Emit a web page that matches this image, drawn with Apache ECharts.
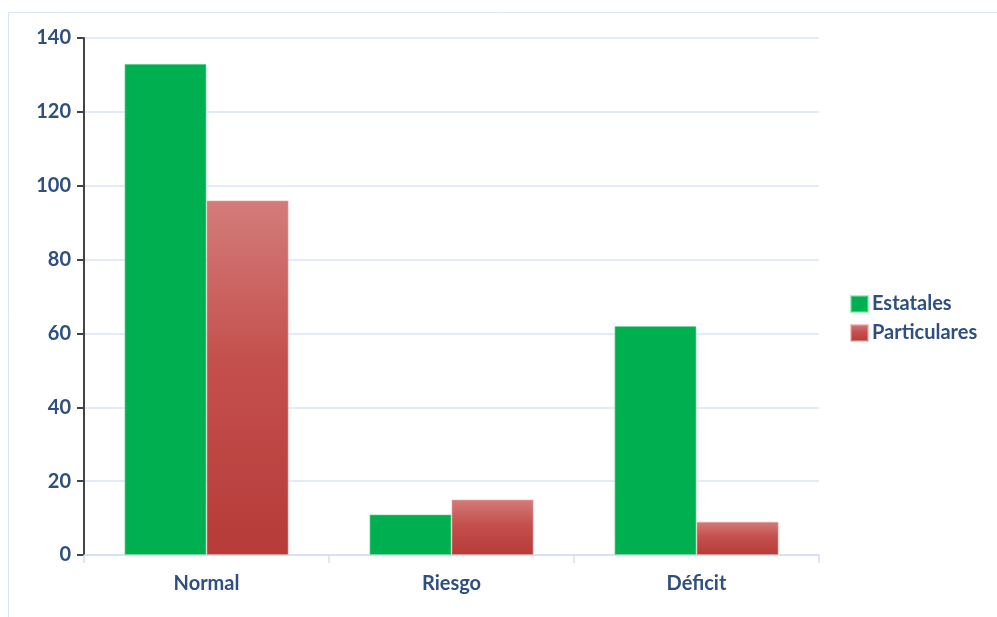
<!DOCTYPE html>
<html><head><meta charset="utf-8">
<script src="https://cdn.jsdelivr.net/npm/echarts@6/dist/echarts.min.js"></script>
<style>html,body{margin:0;padding:0;background:#fff}#c{width:997px;height:617px}</style>
</head><body><div id="c"></div>
<script>
const categories = ['Normal', 'Riesgo', 'Déficit'];
const estatales = [133, 11, 62];
const particulares = [96, 15, 9];
const yTicks = [0, 20, 40, 60, 80, 100, 120, 140];

const labelColor = '#2E4F7F';
const font = 'Lato, "Open Sans", sans-serif';
const chart = echarts.init(document.getElementById('c'), null, {renderer: 'canvas'});
chart.setOption({
  animation: false,
  backgroundColor: '#fff',
  graphic: [{type: 'rect', shape: {x: 8.5, y: 12.5, width: 1000, height: 620}, style: {fill: 'none', stroke: '#DCE6F2', lineWidth: 1}, silent: true}],
  grid: {left: 84, right: 178, top: 38, bottom: 62},
  legend: {
    orient: 'vertical', left: 845, top: 289, itemWidth: 17, itemHeight: 16, itemGap: 9,
    icon: 'rect',
    textStyle: {color: labelColor, fontWeight: 'bold', fontSize: 20, fontFamily: font, padding: [0, 0, 0, -1]},
    data: ['Estatales', 'Particulares']
  },
  xAxis: {
    type: 'category', data: categories,
    axisLine: {lineStyle: {color: '#D3DFEF', width: 1.5}},
    axisTick: {show: true, length: 8, lineStyle: {color: '#D3DFEF', width: 1.5}},
    axisLabel: {color: labelColor, fontWeight: 'bold', fontSize: 20, fontFamily: font, margin: 19}
  },
  yAxis: {
    type: 'value', min: yTicks[0], max: yTicks[yTicks.length - 1], interval: 20,
    axisLine: {show: true, lineStyle: {color: '#444', width: 2}},
    axisTick: {show: true, length: 7, lineStyle: {color: '#444', width: 2}},
    axisLabel: {color: labelColor, fontWeight: 'bold', fontSize: 20, fontFamily: font, margin: 13},
    splitLine: {lineStyle: {color: '#D9E4F4', width: 1.5}}
  },
  series: [
    {name: 'Estatales', type: 'bar', data: estatales, barGap: '0%', barCategoryGap: '33%',
     itemStyle: {color: '#00B050', borderColor: 'rgba(120,220,160,0.6)', borderWidth: 1}},
    {name: 'Particulares', type: 'bar', data: particulares,
     itemStyle: {color: new echarts.graphic.LinearGradient(0, 0, 0, 1, [{offset: 0, color: '#D37C7A'}, {offset: 0.45, color: '#C4504D'}, {offset: 1, color: '#B63B39'}]),
       borderColor: 'rgba(230,160,160,0.6)', borderWidth: 1}}
  ]
});
</script></body></html>
